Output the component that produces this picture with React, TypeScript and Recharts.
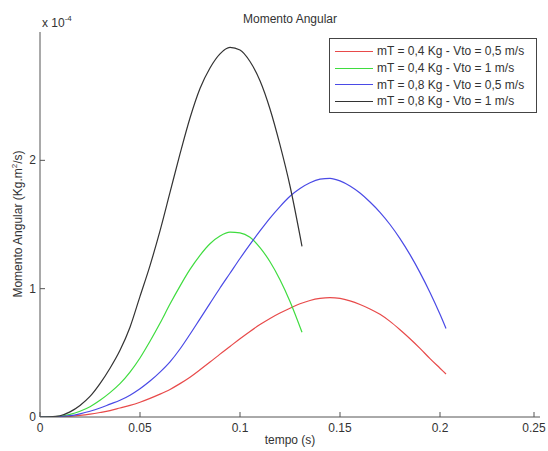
import { LineChart, Line, XAxis, YAxis, Legend, Label } from "recharts";

// tempo (s) for the two short runs (green / black) and the two long runs (red / blue)
const T_SHORT = [
  0, 0.005, 0.01, 0.015, 0.02, 0.025, 0.03, 0.035, 0.04, 0.045, 0.05, 0.055, 0.06, 0.065,
  0.07, 0.075, 0.08, 0.085, 0.09, 0.095, 0.1, 0.105, 0.11, 0.115, 0.12, 0.125, 0.131,
];
const T_LONG = [
  0, 0.005, 0.01, 0.015, 0.02, 0.025, 0.03, 0.035, 0.04, 0.045, 0.05, 0.055, 0.06, 0.065,
  0.07, 0.075, 0.08, 0.085, 0.09, 0.095, 0.1, 0.105, 0.11, 0.115, 0.12, 0.125, 0.13, 0.135,
  0.14, 0.145, 0.15, 0.155, 0.16, 0.165, 0.17, 0.175, 0.18, 0.185, 0.19, 0.195, 0.2, 0.203,
];

// momento angular, in units of 1e-4 Kg.m²/s
const RED = [
  0, 0, 0.002, 0.005, 0.012, 0.022, 0.035, 0.05, 0.07, 0.09, 0.115, 0.145, 0.178, 0.215,
  0.26, 0.31, 0.368, 0.428, 0.49, 0.55, 0.61, 0.667, 0.72, 0.768, 0.81, 0.848, 0.882, 0.908,
  0.924, 0.93, 0.924, 0.905, 0.877, 0.842, 0.8, 0.745, 0.68, 0.61, 0.535, 0.455, 0.38, 0.335,
];
const BLUE = [
  0, 0, 0.003, 0.01, 0.025, 0.045, 0.07, 0.1, 0.13, 0.17, 0.22, 0.28, 0.35, 0.43,
  0.53, 0.645, 0.765, 0.885, 1.005, 1.12, 1.235, 1.345, 1.45, 1.55, 1.64, 1.72, 1.78, 1.825,
  1.853, 1.86, 1.84, 1.8, 1.745, 1.675, 1.595, 1.5, 1.39, 1.265, 1.125, 0.97, 0.8, 0.69,
];
const GREEN = [
  0, 0.001, 0.005, 0.02, 0.045, 0.08, 0.13, 0.19, 0.26, 0.35, 0.46, 0.59, 0.73, 0.88,
  1.02, 1.15, 1.26, 1.35, 1.41, 1.44, 1.435, 1.4, 1.32, 1.21, 1.07, 0.9, 0.66,
];
const BLACK = [
  0, 0.002, 0.01, 0.04, 0.09, 0.16, 0.26, 0.38, 0.52, 0.7, 0.94, 1.18, 1.45, 1.75,
  2.05, 2.33, 2.56, 2.72, 2.83, 2.88, 2.86, 2.77, 2.62, 2.4, 2.12, 1.8, 1.33,
];

const X_TICKS = [0, 0.05, 0.1, 0.15, 0.2, 0.25];
const Y_TICKS = [0, 1, 2];

const NAMES = [
  "mT = 0,4 Kg - Vto = 0,5 m/s",
  "mT = 0,4 Kg - Vto = 1 m/s",
  "mT = 0,8 Kg - Vto = 0,5 m/s",
  "mT = 0,8 Kg - Vto = 1 m/s",
];

const FONT = "'Liberation Sans', Arial, sans-serif";
const AXIS = "#555";
const TEXT = "#333";

const shortData = T_SHORT.map((t, i) => ({ t, green: GREEN[i], black: BLACK[i] }));
const longData = T_LONG.map((t, i) => ({ t, red: RED[i], blue: BLUE[i] }));

function XTick({ x, y, payload }: any) {
  return (
    <g>
      <line x1={x} x2={x} y1={y} y2={y - 5} stroke={AXIS} />
      <text x={x} y={y + 15} textAnchor="middle" fontSize={12} fill={TEXT} fontFamily={FONT}>
        {String(payload.value)}
      </text>
    </g>
  );
}

function YTick({ x, y, payload }: any) {
  const ax = x + 4;
  return (
    <g>
      {payload.value !== 0 && <line x1={ax} x2={ax + 5} y1={y} y2={y} stroke={AXIS} />}
      <text x={x} y={y + 4} textAnchor="end" fontSize={12} fill={TEXT} fontFamily={FONT}>
        {String(payload.value)}
      </text>
    </g>
  );
}

function LegendBox({ payload }: any) {
  return (
    <div
      style={{
        width: 201,
        border: "1px solid #444",
        background: "#fff",
        padding: "4px 0 2px 5px",
        fontFamily: FONT,
        fontSize: 12,
        color: TEXT,
      }}
    >
      {(payload || []).map((p: any) => (
        <div key={p.value} style={{ display: "flex", alignItems: "center", height: 16.7 }}>
          <span style={{ width: 38, borderTop: `1.5px solid ${p.color}`, marginRight: 4 }} />
          <span style={{ whiteSpace: "nowrap" }}>{p.value}</span>
        </div>
      ))}
    </div>
  );
}

function Texts() {
  return (
    <g fontFamily={FONT} fill={TEXT}>
      <text x={290} y={23} textAnchor="middle" fontSize={12}>Momento Angular</text>
      <text x={42} y={27} fontSize={12}>
        x 10<tspan fontSize={8} dy={-6}>-4</tspan>
      </text>
      <text x={290} y={444} textAnchor="middle" fontSize={12}>tempo (s)</text>
      <text x={22} y={224} textAnchor="middle" fontSize={12} transform="rotate(-90 22 224)">
        Momento Angular (Kg.m<tspan fontSize={8} dy={-5}>2</tspan>
        <tspan dy={5}>/s)</tspan>
      </text>
    </g>
  );
}

export default function App() {
  return (
    <div style={{ position: "absolute", left: 0, top: 0, width: 548, height: 451, background: "#fff" }}>
      <LineChart width={548} height={451} margin={{ top: 32, right: 8, bottom: 0, left: 0 }}>
        <XAxis
          type="number"
          dataKey="t"
          domain={[0, 0.25]}
          ticks={X_TICKS}
          allowDataOverflow
          height={34}
          tickSize={0}
          tickMargin={0}
          tickLine={false}
          stroke={AXIS}
          tick={<XTick />}
        >
          <Label content={() => <Texts />} />
        </XAxis>
        <YAxis
          type="number"
          domain={[0, 3]}
          ticks={Y_TICKS}
          allowDataOverflow
          width={40}
          tickSize={0}
          tickMargin={4}
          tickLine={false}
          stroke={AXIS}
          tick={<YTick />}
        />
        <Legend
          layout="horizontal"
          verticalAlign="middle"
          align="center"
          wrapperStyle={{ left: 329, top: 38, width: 204 }}
          content={<LegendBox />}
        />
        <Line data={longData} dataKey="red" name={NAMES[0]} type="monotone" stroke="#e84a4a" strokeWidth={1.2} dot={false} isAnimationActive={false} />
        <Line data={shortData} dataKey="green" name={NAMES[1]} type="monotone" stroke="#3fdc3f" strokeWidth={1.2} dot={false} isAnimationActive={false} />
        <Line data={longData} dataKey="blue" name={NAMES[2]} type="monotone" stroke="#4a4ae6" strokeWidth={1.2} dot={false} isAnimationActive={false} />
        <Line data={shortData} dataKey="black" name={NAMES[3]} type="monotone" stroke="#333" strokeWidth={1.2} dot={false} isAnimationActive={false} />
      </LineChart>
    </div>
  );
}
